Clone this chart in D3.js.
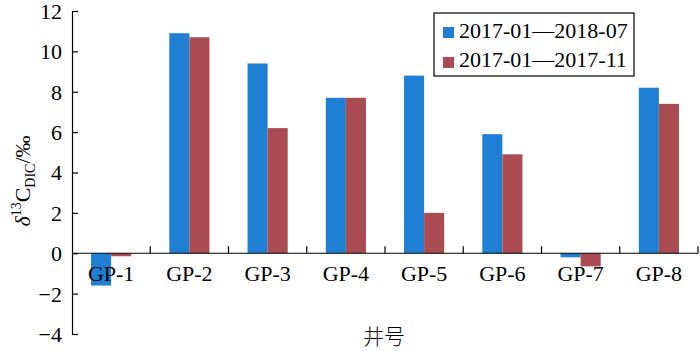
<!DOCTYPE html>
<html>
<head>
<meta charset="utf-8">
<script src="https://cdn.jsdelivr.net/npm/d3@7"></script>
<style>
  body { margin: 0; background: #fff; }
  text { font-family: "Liberation Serif", "Times New Roman", serif; fill: #000; }
</style>
</head>
<body>
<div id="chart"></div>
<script>
// data
const wells = ["GP-1", "GP-2", "GP-3", "GP-4", "GP-5", "GP-6", "GP-7", "GP-8"];
const seriesNames = ["2017-01\u20142018-07", "2017-01\u20142017-11"];
const longPeriod = [-1.6, 10.9, 9.4, 7.7, 8.8, 5.9, -0.2, 8.2];
const shortPeriod = [-0.15, 10.7, 6.2, 7.7, 2.0, 4.9, -0.65, 7.4];
const yTicks = [-4, -2, 0, 2, 4, 6, 8, 10, 12];
const colors = ["#1f7fd4", "#ab4b52"];

const width = 700, height = 351,
    margin = ({ top: 12, right: 2, bottom: 16, left: 72 });

const svg = d3.select("#chart")
    .append("svg")
    .attr("width", width)
    .attr("height", height);

let x = d3.scaleBand()
    .domain(wells)
    .range([margin.left, width - margin.right])
    .paddingInner(0)
    .paddingOuter(0);

let xs = d3.scaleBand()
    .domain([0, 1])
    .range([0, x.bandwidth()])
    .paddingOuter(0.95)
    .paddingInner(0);

let y = d3.scaleLinear()
    .domain([-4, 12])
    .range([height - margin.bottom - 1, margin.top - 1]);

// bars
const rows = wells.map((w, i) => ({ well: w, vals: [longPeriod[i], shortPeriod[i]] }));
svg.append("g")
    .selectAll("g")
    .data(rows)
    .join("g")
    .attr("transform", d => `translate(${x(d.well)},0)`)
    .selectAll("rect")
    .data(d => d.vals.map((v, k) => ({ k, v })))
    .join("rect")
    .attr("x", d => xs(d.k))
    .attr("width", xs.bandwidth())
    .attr("y", d => y(Math.max(0, d.v)))
    .attr("height", d => Math.abs(y(d.v) - y(0)))
    .attr("fill", d => colors[d.k]);

// y axis, ticks pointing inward
const yAxis = svg.append("g")
    .attr("transform", `translate(${margin.left},0)`)
    .call(d3.axisRight(y)
        .tickValues(yTicks)
        .tickSize(6)
        .tickSizeOuter(0)
        .tickFormat(d => d < 0 ? "\u2212" + Math.abs(d) : d));
yAxis.select(".domain").attr("stroke", "#000").attr("stroke-width", 1.2);
yAxis.selectAll(".tick line").attr("stroke", "#000").attr("stroke-width", 1.2);
yAxis.selectAll(".tick text")
    .attr("x", -10)
    .attr("text-anchor", "end")
    .attr("dy", "0.34em")
    .style("font-size", "22px");

// x axis along zero, ticks at group boundaries pointing up
const boundaries = wells.slice(1).map(w => x(w)).concat([x.range()[1]]);
const xg = svg.append("g");
xg.append("line")
    .attr("x1", margin.left).attr("x2", x.range()[1])
    .attr("y1", y(0)).attr("y2", y(0))
    .attr("stroke", "#000").attr("stroke-width", 1.2);
xg.selectAll(".xt")
    .data(boundaries)
    .join("line")
    .attr("class", "xt")
    .attr("x1", d => d).attr("x2", d => d)
    .attr("y1", y(0)).attr("y2", y(0) - 7)
    .attr("stroke", "#000").attr("stroke-width", 1.2);
xg.selectAll(".xl")
    .data(wells)
    .join("text")
    .attr("class", "xl")
    .attr("x", d => x(d) + x.bandwidth() / 2)
    .attr("y", y(0) + 28)
    .attr("text-anchor", "middle")
    .style("font-size", "22px")
    .text(d => d);

// axis titles
svg.append("text")
    .attr("x", 384)
    .attr("y", 344)
    .attr("text-anchor", "middle")
    .style("font-family", "'Noto Sans CJK SC', sans-serif")
    .style("font-weight", 300)
    .style("font-size", "21px")
    .text("井号");

const yl = svg.append("text")
    .attr("transform", "translate(30,181) rotate(-90)")
    .attr("text-anchor", "middle")
    .style("font-size", "22px");
yl.append("tspan").style("font-style", "italic").text("\u03b4");
yl.append("tspan").attr("dy", -9).style("font-size", "14px").text("13");
yl.append("tspan").attr("dy", 9).text("C");
yl.append("tspan").attr("dy", 5).style("font-size", "14px").text("DIC");
yl.append("tspan").attr("dy", -5).text("/\u2030");

// legend
const legend = svg.append("g").attr("transform", "translate(434,13)");
legend.append("rect")
    .attr("width", 200).attr("height", 63)
    .attr("fill", "#fff").attr("stroke", "#000").attr("stroke-width", 1.2);
seriesNames.forEach((name, i) => {
    legend.append("rect")
        .attr("x", 9).attr("y", 14 + i * 30)
        .attr("width", 11).attr("height", 11)
        .attr("fill", colors[i]);
    legend.append("text")
        .attr("x", 25).attr("y", 25 + i * 29)
        .style("font-size", "22px")
        .text(name);
});
</script>
</body>
</html>
